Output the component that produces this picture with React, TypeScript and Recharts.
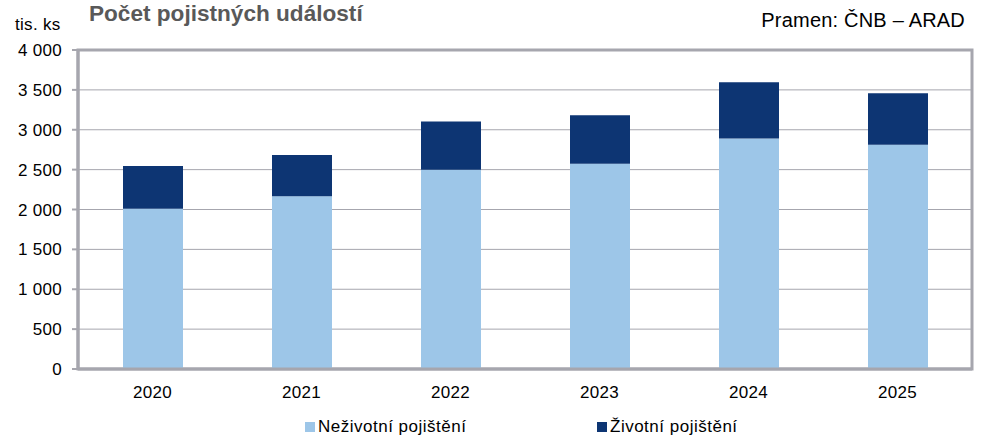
import React from 'react';
import { BarChart, Bar, XAxis, YAxis, CartesianGrid, ReferenceArea, Legend } from 'recharts';

const years = ['2020', '2021', '2022', '2023', '2024', '2025'];
const nonLife = [2010, 2167, 2500, 2575, 2891, 2812];
const life = [535, 517, 604, 608, 704, 646];
const yTicks = [0, 500, 1000, 1500, 2000, 2500, 3000, 3500, 4000];

const series = [
  { key: 'nonLife', name: 'Neživotní pojištění', color: '#9DC6E8' },
  { key: 'life', name: 'Životní pojištění', color: '#0D3573' },
];

const data = years.map((y, i) => ({ year: y, nonLife: nonLife[i], life: life[i] }));

const FONT = '"Liberation Sans", Arial, sans-serif';
const GRAY = '#A6A6AE';

const fmt = (v: number) => String(v).replace(/\B(?=(\d{3})+(?!\d))/g, ' ');

const LegendContent = () => (
  <div style={{ position: 'relative', width: 982, height: 24, fontFamily: FONT, fontSize: 17, color: '#000' }}>
    {series.map((s, i) => (
      <div key={s.key} style={{ position: 'absolute', left: i === 0 ? 305 : 597, top: 0, display: 'flex', alignItems: 'center', whiteSpace: 'nowrap', letterSpacing: 0.5 }}>
        <span style={{ display: 'inline-block', width: 10, height: 10, background: s.color, marginRight: 3 }} />
        <span>{s.name}</span>
      </div>
    ))}
  </div>
);

export default function App() {
  return (
    <div style={{ position: 'absolute', left: 0, top: 0, width: 982, height: 446, background: '#fff' }}>
      <BarChart width={982} height={446} data={data} margin={{ top: 50, right: 10, bottom: 47, left: 1 }} barSize={60}>
        <CartesianGrid vertical={false} stroke={GRAY} strokeWidth={1} />
        <XAxis
          dataKey="year"
          height={30}
          axisLine={{ stroke: GRAY, strokeWidth: 3 }}
          tickLine={false}
          tickSize={0}
          tickMargin={17}
          tick={{ fill: '#000', fontFamily: FONT, fontSize: 17, letterSpacing: 0.3 }}
        />
        <YAxis
          width={77}
          domain={[0, 4000]}
          ticks={yTicks}
          interval={0}
          tickFormatter={fmt}
          axisLine={{ stroke: GRAY, strokeWidth: 3 }}
          tickLine={{ stroke: GRAY, strokeWidth: 2 }}
          tickSize={6}
          tickMargin={10}
          tick={{ fill: '#000', fontFamily: FONT, fontSize: 17, letterSpacing: 0.3 }}
        />
        {series.map((s) => (
          <Bar key={s.key} dataKey={s.key} name={s.name} stackId="a" fill={s.color} isAnimationActive={false} />
        ))}
        <ReferenceArea y1={0} y2={4000} fill="none" fillOpacity={0} stroke={GRAY} strokeWidth={3} ifOverflow="visible" />
        <Legend
          verticalAlign="middle"
          align="center"
          content={<LegendContent />}
          wrapperStyle={{ position: 'absolute', left: 0, top: 417, width: 982 }}
        />
        <text x={89} y={21} fontFamily={FONT} fontSize={22.6} fontWeight="bold" fill="#595959">
          Počet pojistných událostí
        </text>
        <text x={15} y={30} fontFamily={FONT} fontSize={17} letterSpacing={0.3} fill="#000">
          tis. ks
        </text>
        <text x={965} y={27} textAnchor="end" fontFamily={FONT} fontSize={20} letterSpacing={0.2} fill="#000">
          Pramen: ČNB – ARAD
        </text>
      </BarChart>
    </div>
  );
}
